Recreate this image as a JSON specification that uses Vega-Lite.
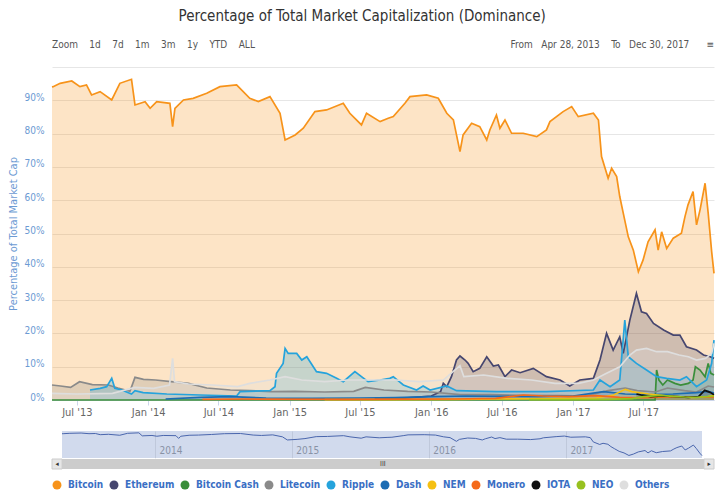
{
  "$schema": "https://vega.github.io/schema/vega-lite/v6.json",
  "background": "white",
  "padding": {"left": 7, "top": 9, "right": 14, "bottom": 2},
  "title": {
    "text": "Percentage of Total Market Capitalization (Dominance)",
    "fontSize": 15,
    "fontWeight": "normal",
    "color": "#333333",
    "anchor": "middle",
    "offset": 16
  },
  "datasets": {
    "coins": [
      {"date": "2013-04-28", "coin": "Bitcoin", "pct": 94.0},
      {"date": "2013-05-01", "coin": "Bitcoin", "pct": 94.1},
      {"date": "2013-05-19", "coin": "Bitcoin", "pct": 95.1},
      {"date": "2013-06-18", "coin": "Bitcoin", "pct": 95.8},
      {"date": "2013-07-09", "coin": "Bitcoin", "pct": 94.1},
      {"date": "2013-07-26", "coin": "Bitcoin", "pct": 94.6},
      {"date": "2013-08-08", "coin": "Bitcoin", "pct": 91.6},
      {"date": "2013-08-30", "coin": "Bitcoin", "pct": 92.6},
      {"date": "2013-09-29", "coin": "Bitcoin", "pct": 90.1},
      {"date": "2013-10-20", "coin": "Bitcoin", "pct": 95.1},
      {"date": "2013-11-19", "coin": "Bitcoin", "pct": 96.3},
      {"date": "2013-11-28", "coin": "Bitcoin", "pct": 88.6},
      {"date": "2013-12-24", "coin": "Bitcoin", "pct": 89.6},
      {"date": "2014-01-06", "coin": "Bitcoin", "pct": 87.6},
      {"date": "2014-01-23", "coin": "Bitcoin", "pct": 89.6},
      {"date": "2014-02-26", "coin": "Bitcoin", "pct": 89.1},
      {"date": "2014-03-05", "coin": "Bitcoin", "pct": 82.1},
      {"date": "2014-03-11", "coin": "Bitcoin", "pct": 87.6},
      {"date": "2014-04-02", "coin": "Bitcoin", "pct": 90.1},
      {"date": "2014-04-27", "coin": "Bitcoin", "pct": 90.6},
      {"date": "2014-06-01", "coin": "Bitcoin", "pct": 92.1},
      {"date": "2014-07-05", "coin": "Bitcoin", "pct": 94.1},
      {"date": "2014-08-17", "coin": "Bitcoin", "pct": 94.6},
      {"date": "2014-09-20", "coin": "Bitcoin", "pct": 90.6},
      {"date": "2014-10-12", "coin": "Bitcoin", "pct": 89.6},
      {"date": "2014-11-11", "coin": "Bitcoin", "pct": 91.1},
      {"date": "2014-12-07", "coin": "Bitcoin", "pct": 86.1},
      {"date": "2014-12-20", "coin": "Bitcoin", "pct": 78.1},
      {"date": "2015-01-15", "coin": "Bitcoin", "pct": 79.6},
      {"date": "2015-02-05", "coin": "Bitcoin", "pct": 81.6},
      {"date": "2015-03-07", "coin": "Bitcoin", "pct": 86.6},
      {"date": "2015-04-06", "coin": "Bitcoin", "pct": 87.1},
      {"date": "2015-05-19", "coin": "Bitcoin", "pct": 89.1},
      {"date": "2015-06-05", "coin": "Bitcoin", "pct": 86.1},
      {"date": "2015-07-05", "coin": "Bitcoin", "pct": 82.6},
      {"date": "2015-07-18", "coin": "Bitcoin", "pct": 86.1},
      {"date": "2015-08-22", "coin": "Bitcoin", "pct": 83.6},
      {"date": "2015-09-12", "coin": "Bitcoin", "pct": 84.6},
      {"date": "2015-09-25", "coin": "Bitcoin", "pct": 85.1},
      {"date": "2015-10-25", "coin": "Bitcoin", "pct": 89.1},
      {"date": "2015-11-07", "coin": "Bitcoin", "pct": 91.1},
      {"date": "2015-12-20", "coin": "Bitcoin", "pct": 91.6},
      {"date": "2016-01-19", "coin": "Bitcoin", "pct": 90.6},
      {"date": "2016-02-10", "coin": "Bitcoin", "pct": 86.1},
      {"date": "2016-02-27", "coin": "Bitcoin", "pct": 84.1},
      {"date": "2016-03-15", "coin": "Bitcoin", "pct": 74.6},
      {"date": "2016-03-23", "coin": "Bitcoin", "pct": 79.6},
      {"date": "2016-04-14", "coin": "Bitcoin", "pct": 83.1},
      {"date": "2016-05-05", "coin": "Bitcoin", "pct": 82.1},
      {"date": "2016-05-23", "coin": "Bitcoin", "pct": 78.1},
      {"date": "2016-05-31", "coin": "Bitcoin", "pct": 81.1},
      {"date": "2016-06-17", "coin": "Bitcoin", "pct": 85.6},
      {"date": "2016-06-26", "coin": "Bitcoin", "pct": 81.6},
      {"date": "2016-07-09", "coin": "Bitcoin", "pct": 84.1},
      {"date": "2016-07-26", "coin": "Bitcoin", "pct": 80.1},
      {"date": "2016-08-25", "coin": "Bitcoin", "pct": 80.1},
      {"date": "2016-09-29", "coin": "Bitcoin", "pct": 79.1},
      {"date": "2016-10-24", "coin": "Bitcoin", "pct": 81.1},
      {"date": "2016-11-02", "coin": "Bitcoin", "pct": 83.6},
      {"date": "2016-12-06", "coin": "Bitcoin", "pct": 86.6},
      {"date": "2016-12-28", "coin": "Bitcoin", "pct": 88.1},
      {"date": "2017-01-14", "coin": "Bitcoin", "pct": 85.1},
      {"date": "2017-02-22", "coin": "Bitcoin", "pct": 86.1},
      {"date": "2017-03-07", "coin": "Bitcoin", "pct": 84.1},
      {"date": "2017-03-15", "coin": "Bitcoin", "pct": 73.1},
      {"date": "2017-04-01", "coin": "Bitcoin", "pct": 66.6},
      {"date": "2017-04-10", "coin": "Bitcoin", "pct": 69.6},
      {"date": "2017-04-23", "coin": "Bitcoin", "pct": 67.1},
      {"date": "2017-05-01", "coin": "Bitcoin", "pct": 61.1},
      {"date": "2017-05-10", "coin": "Bitcoin", "pct": 56.1},
      {"date": "2017-05-23", "coin": "Bitcoin", "pct": 49.0},
      {"date": "2017-06-05", "coin": "Bitcoin", "pct": 45.0},
      {"date": "2017-06-18", "coin": "Bitcoin", "pct": 38.5},
      {"date": "2017-06-30", "coin": "Bitcoin", "pct": 42.0},
      {"date": "2017-07-13", "coin": "Bitcoin", "pct": 47.5},
      {"date": "2017-07-31", "coin": "Bitcoin", "pct": 51.1},
      {"date": "2017-08-08", "coin": "Bitcoin", "pct": 45.0},
      {"date": "2017-08-17", "coin": "Bitcoin", "pct": 50.5},
      {"date": "2017-08-30", "coin": "Bitcoin", "pct": 45.5},
      {"date": "2017-09-16", "coin": "Bitcoin", "pct": 48.6},
      {"date": "2017-10-07", "coin": "Bitcoin", "pct": 50.1},
      {"date": "2017-10-16", "coin": "Bitcoin", "pct": 55.0},
      {"date": "2017-10-24", "coin": "Bitcoin", "pct": 58.6},
      {"date": "2017-11-06", "coin": "Bitcoin", "pct": 62.6},
      {"date": "2017-11-15", "coin": "Bitcoin", "pct": 52.6},
      {"date": "2017-11-24", "coin": "Bitcoin", "pct": 57.1},
      {"date": "2017-12-07", "coin": "Bitcoin", "pct": 65.1},
      {"date": "2017-12-15", "coin": "Bitcoin", "pct": 56.1},
      {"date": "2017-12-24", "coin": "Bitcoin", "pct": 44.5},
      {"date": "2017-12-30", "coin": "Bitcoin", "pct": 38.0},

      {"date": "2015-08-08", "coin": "Ethereum", "pct": 0.5},
      {"date": "2015-10-15", "coin": "Ethereum", "pct": 0.5},
      {"date": "2016-01-01", "coin": "Ethereum", "pct": 1.2},
      {"date": "2016-01-25", "coin": "Ethereum", "pct": 2.5},
      {"date": "2016-02-01", "coin": "Ethereum", "pct": 5.0},
      {"date": "2016-02-10", "coin": "Ethereum", "pct": 4.0},
      {"date": "2016-02-22", "coin": "Ethereum", "pct": 7.0},
      {"date": "2016-03-06", "coin": "Ethereum", "pct": 12.0},
      {"date": "2016-03-15", "coin": "Ethereum", "pct": 13.2},
      {"date": "2016-03-28", "coin": "Ethereum", "pct": 12.0},
      {"date": "2016-04-05", "coin": "Ethereum", "pct": 11.0},
      {"date": "2016-04-18", "coin": "Ethereum", "pct": 8.5},
      {"date": "2016-05-05", "coin": "Ethereum", "pct": 9.5},
      {"date": "2016-05-23", "coin": "Ethereum", "pct": 13.0},
      {"date": "2016-06-09", "coin": "Ethereum", "pct": 10.2},
      {"date": "2016-06-22", "coin": "Ethereum", "pct": 10.5},
      {"date": "2016-07-09", "coin": "Ethereum", "pct": 7.0},
      {"date": "2016-07-26", "coin": "Ethereum", "pct": 9.0},
      {"date": "2016-08-17", "coin": "Ethereum", "pct": 8.2},
      {"date": "2016-09-20", "coin": "Ethereum", "pct": 9.5},
      {"date": "2016-10-24", "coin": "Ethereum", "pct": 7.0},
      {"date": "2016-11-28", "coin": "Ethereum", "pct": 6.0},
      {"date": "2016-12-23", "coin": "Ethereum", "pct": 4.2},
      {"date": "2017-01-18", "coin": "Ethereum", "pct": 6.0},
      {"date": "2017-02-22", "coin": "Ethereum", "pct": 6.5},
      {"date": "2017-03-11", "coin": "Ethereum", "pct": 12.0},
      {"date": "2017-03-28", "coin": "Ethereum", "pct": 20.0},
      {"date": "2017-04-14", "coin": "Ethereum", "pct": 15.0},
      {"date": "2017-05-01", "coin": "Ethereum", "pct": 19.0},
      {"date": "2017-05-10", "coin": "Ethereum", "pct": 14.0},
      {"date": "2017-05-27", "coin": "Ethereum", "pct": 24.0},
      {"date": "2017-06-13", "coin": "Ethereum", "pct": 32.0},
      {"date": "2017-06-26", "coin": "Ethereum", "pct": 26.5},
      {"date": "2017-07-09", "coin": "Ethereum", "pct": 26.0},
      {"date": "2017-07-27", "coin": "Ethereum", "pct": 23.0},
      {"date": "2017-08-22", "coin": "Ethereum", "pct": 21.0},
      {"date": "2017-09-16", "coin": "Ethereum", "pct": 19.5},
      {"date": "2017-10-03", "coin": "Ethereum", "pct": 19.5},
      {"date": "2017-10-20", "coin": "Ethereum", "pct": 16.0},
      {"date": "2017-11-15", "coin": "Ethereum", "pct": 15.0},
      {"date": "2017-12-03", "coin": "Ethereum", "pct": 13.5},
      {"date": "2017-12-20", "coin": "Ethereum", "pct": 13.0},
      {"date": "2017-12-30", "coin": "Ethereum", "pct": 12.5},

      {"date": "2013-04-28", "coin": "Bitcoin Cash", "pct": 0.0},
      {"date": "2017-07-31", "coin": "Bitcoin Cash", "pct": 0.0},
      {"date": "2017-08-01", "coin": "Bitcoin Cash", "pct": 2.0},
      {"date": "2017-08-04", "coin": "Bitcoin Cash", "pct": 9.0},
      {"date": "2017-08-10", "coin": "Bitcoin Cash", "pct": 6.0},
      {"date": "2017-08-20", "coin": "Bitcoin Cash", "pct": 4.5},
      {"date": "2017-09-01", "coin": "Bitcoin Cash", "pct": 6.0},
      {"date": "2017-09-20", "coin": "Bitcoin Cash", "pct": 5.0},
      {"date": "2017-10-05", "coin": "Bitcoin Cash", "pct": 4.5},
      {"date": "2017-10-25", "coin": "Bitcoin Cash", "pct": 5.0},
      {"date": "2017-11-06", "coin": "Bitcoin Cash", "pct": 6.0},
      {"date": "2017-11-12", "coin": "Bitcoin Cash", "pct": 10.0},
      {"date": "2017-11-24", "coin": "Bitcoin Cash", "pct": 9.0},
      {"date": "2017-12-07", "coin": "Bitcoin Cash", "pct": 7.0},
      {"date": "2017-12-15", "coin": "Bitcoin Cash", "pct": 11.0},
      {"date": "2017-12-22", "coin": "Bitcoin Cash", "pct": 8.0},
      {"date": "2017-12-30", "coin": "Bitcoin Cash", "pct": 7.5},

      {"date": "2013-04-28", "coin": "Litecoin", "pct": 4.5},
      {"date": "2013-05-20", "coin": "Litecoin", "pct": 4.2},
      {"date": "2013-06-15", "coin": "Litecoin", "pct": 3.8},
      {"date": "2013-07-08", "coin": "Litecoin", "pct": 5.5},
      {"date": "2013-08-10", "coin": "Litecoin", "pct": 4.6},
      {"date": "2013-09-20", "coin": "Litecoin", "pct": 4.5},
      {"date": "2013-10-15", "coin": "Litecoin", "pct": 3.6},
      {"date": "2013-11-15", "coin": "Litecoin", "pct": 2.6},
      {"date": "2013-11-28", "coin": "Litecoin", "pct": 6.8},
      {"date": "2013-12-20", "coin": "Litecoin", "pct": 6.2},
      {"date": "2014-01-20", "coin": "Litecoin", "pct": 6.0},
      {"date": "2014-03-01", "coin": "Litecoin", "pct": 5.5},
      {"date": "2014-04-15", "coin": "Litecoin", "pct": 5.0},
      {"date": "2014-06-01", "coin": "Litecoin", "pct": 3.6},
      {"date": "2014-08-01", "coin": "Litecoin", "pct": 3.0},
      {"date": "2014-09-20", "coin": "Litecoin", "pct": 2.8},
      {"date": "2014-11-15", "coin": "Litecoin", "pct": 2.5},
      {"date": "2015-01-15", "coin": "Litecoin", "pct": 2.6},
      {"date": "2015-04-01", "coin": "Litecoin", "pct": 2.4},
      {"date": "2015-06-15", "coin": "Litecoin", "pct": 2.6},
      {"date": "2015-07-15", "coin": "Litecoin", "pct": 3.8},
      {"date": "2015-09-01", "coin": "Litecoin", "pct": 3.0},
      {"date": "2015-11-01", "coin": "Litecoin", "pct": 2.6},
      {"date": "2016-01-01", "coin": "Litecoin", "pct": 2.4},
      {"date": "2016-03-15", "coin": "Litecoin", "pct": 1.6},
      {"date": "2016-06-01", "coin": "Litecoin", "pct": 1.6},
      {"date": "2016-09-01", "coin": "Litecoin", "pct": 1.4},
      {"date": "2016-12-01", "coin": "Litecoin", "pct": 1.3},
      {"date": "2017-02-01", "coin": "Litecoin", "pct": 1.2},
      {"date": "2017-04-01", "coin": "Litecoin", "pct": 2.8},
      {"date": "2017-05-15", "coin": "Litecoin", "pct": 3.6},
      {"date": "2017-06-15", "coin": "Litecoin", "pct": 2.8},
      {"date": "2017-08-01", "coin": "Litecoin", "pct": 2.4},
      {"date": "2017-09-01", "coin": "Litecoin", "pct": 3.6},
      {"date": "2017-10-15", "coin": "Litecoin", "pct": 2.8},
      {"date": "2017-11-15", "coin": "Litecoin", "pct": 2.4},
      {"date": "2017-12-15", "coin": "Litecoin", "pct": 4.2},
      {"date": "2017-12-30", "coin": "Litecoin", "pct": 3.9},

      {"date": "2013-08-04", "coin": "Ripple", "pct": 3.0},
      {"date": "2013-08-30", "coin": "Ripple", "pct": 3.5},
      {"date": "2013-09-16", "coin": "Ripple", "pct": 4.0},
      {"date": "2013-09-29", "coin": "Ripple", "pct": 6.5},
      {"date": "2013-10-07", "coin": "Ripple", "pct": 3.5},
      {"date": "2013-10-25", "coin": "Ripple", "pct": 3.0},
      {"date": "2013-11-19", "coin": "Ripple", "pct": 1.8},
      {"date": "2013-11-28", "coin": "Ripple", "pct": 2.8},
      {"date": "2013-12-19", "coin": "Ripple", "pct": 2.2},
      {"date": "2014-02-18", "coin": "Ripple", "pct": 1.8},
      {"date": "2014-05-15", "coin": "Ripple", "pct": 1.5},
      {"date": "2014-08-17", "coin": "Ripple", "pct": 1.2},
      {"date": "2014-08-26", "coin": "Ripple", "pct": 2.5},
      {"date": "2014-11-11", "coin": "Ripple", "pct": 2.8},
      {"date": "2014-11-24", "coin": "Ripple", "pct": 4.0},
      {"date": "2014-11-28", "coin": "Ripple", "pct": 8.0},
      {"date": "2014-12-15", "coin": "Ripple", "pct": 11.0},
      {"date": "2014-12-20", "coin": "Ripple", "pct": 15.5},
      {"date": "2014-12-28", "coin": "Ripple", "pct": 14.0},
      {"date": "2015-01-19", "coin": "Ripple", "pct": 14.0},
      {"date": "2015-02-01", "coin": "Ripple", "pct": 12.0},
      {"date": "2015-02-14", "coin": "Ripple", "pct": 13.0},
      {"date": "2015-03-11", "coin": "Ripple", "pct": 8.5},
      {"date": "2015-04-06", "coin": "Ripple", "pct": 8.0},
      {"date": "2015-05-02", "coin": "Ripple", "pct": 6.5},
      {"date": "2015-05-19", "coin": "Ripple", "pct": 5.5},
      {"date": "2015-06-18", "coin": "Ripple", "pct": 8.5},
      {"date": "2015-07-05", "coin": "Ripple", "pct": 7.0},
      {"date": "2015-07-22", "coin": "Ripple", "pct": 5.5},
      {"date": "2015-08-22", "coin": "Ripple", "pct": 6.0},
      {"date": "2015-09-16", "coin": "Ripple", "pct": 6.5},
      {"date": "2015-09-25", "coin": "Ripple", "pct": 7.0},
      {"date": "2015-10-21", "coin": "Ripple", "pct": 4.5},
      {"date": "2015-11-24", "coin": "Ripple", "pct": 3.0},
      {"date": "2015-12-11", "coin": "Ripple", "pct": 4.2},
      {"date": "2015-12-29", "coin": "Ripple", "pct": 3.0},
      {"date": "2016-02-10", "coin": "Ripple", "pct": 4.2},
      {"date": "2016-03-06", "coin": "Ripple", "pct": 2.8},
      {"date": "2016-06-17", "coin": "Ripple", "pct": 2.5},
      {"date": "2016-10-24", "coin": "Ripple", "pct": 2.5},
      {"date": "2017-02-22", "coin": "Ripple", "pct": 3.0},
      {"date": "2017-03-11", "coin": "Ripple", "pct": 6.0},
      {"date": "2017-04-06", "coin": "Ripple", "pct": 4.0},
      {"date": "2017-05-01", "coin": "Ripple", "pct": 6.0},
      {"date": "2017-05-14", "coin": "Ripple", "pct": 24.0},
      {"date": "2017-05-23", "coin": "Ripple", "pct": 13.0},
      {"date": "2017-06-13", "coin": "Ripple", "pct": 11.0},
      {"date": "2017-07-09", "coin": "Ripple", "pct": 9.0},
      {"date": "2017-08-04", "coin": "Ripple", "pct": 7.0},
      {"date": "2017-08-30", "coin": "Ripple", "pct": 6.5},
      {"date": "2017-10-03", "coin": "Ripple", "pct": 6.0},
      {"date": "2017-10-20", "coin": "Ripple", "pct": 7.0},
      {"date": "2017-11-15", "coin": "Ripple", "pct": 4.0},
      {"date": "2017-12-11", "coin": "Ripple", "pct": 6.0},
      {"date": "2017-12-24", "coin": "Ripple", "pct": 11.0},
      {"date": "2017-12-30", "coin": "Ripple", "pct": 18.0},

      {"date": "2014-02-15", "coin": "Dash", "pct": 0.3},
      {"date": "2014-05-15", "coin": "Dash", "pct": 0.8},
      {"date": "2014-08-01", "coin": "Dash", "pct": 1.0},
      {"date": "2014-11-01", "coin": "Dash", "pct": 0.6},
      {"date": "2015-03-01", "coin": "Dash", "pct": 0.5},
      {"date": "2015-07-01", "coin": "Dash", "pct": 0.6},
      {"date": "2015-10-01", "coin": "Dash", "pct": 0.7},
      {"date": "2016-01-01", "coin": "Dash", "pct": 1.0},
      {"date": "2016-04-01", "coin": "Dash", "pct": 1.2},
      {"date": "2016-07-01", "coin": "Dash", "pct": 1.1},
      {"date": "2016-10-01", "coin": "Dash", "pct": 1.0},
      {"date": "2017-01-01", "coin": "Dash", "pct": 1.2},
      {"date": "2017-03-20", "coin": "Dash", "pct": 2.5},
      {"date": "2017-05-15", "coin": "Dash", "pct": 1.8},
      {"date": "2017-07-15", "coin": "Dash", "pct": 1.6},
      {"date": "2017-09-15", "coin": "Dash", "pct": 1.8},
      {"date": "2017-11-15", "coin": "Dash", "pct": 2.2},
      {"date": "2017-12-15", "coin": "Dash", "pct": 2.6},
      {"date": "2017-12-30", "coin": "Dash", "pct": 2.1},

      {"date": "2015-04-01", "coin": "NEM", "pct": 0.1},
      {"date": "2015-10-01", "coin": "NEM", "pct": 0.1},
      {"date": "2016-03-01", "coin": "NEM", "pct": 0.2},
      {"date": "2016-07-01", "coin": "NEM", "pct": 0.3},
      {"date": "2016-12-01", "coin": "NEM", "pct": 0.4},
      {"date": "2017-03-01", "coin": "NEM", "pct": 0.6},
      {"date": "2017-04-15", "coin": "NEM", "pct": 1.5},
      {"date": "2017-05-15", "coin": "NEM", "pct": 3.2},
      {"date": "2017-06-01", "coin": "NEM", "pct": 2.5},
      {"date": "2017-07-15", "coin": "NEM", "pct": 1.8},
      {"date": "2017-09-01", "coin": "NEM", "pct": 1.2},
      {"date": "2017-11-01", "coin": "NEM", "pct": 0.8},
      {"date": "2017-12-15", "coin": "NEM", "pct": 1.0},
      {"date": "2017-12-30", "coin": "NEM", "pct": 1.4},

      {"date": "2014-05-21", "coin": "Monero", "pct": 0.2},
      {"date": "2014-09-01", "coin": "Monero", "pct": 0.3},
      {"date": "2015-06-01", "coin": "Monero", "pct": 0.2},
      {"date": "2016-03-01", "coin": "Monero", "pct": 0.3},
      {"date": "2016-06-15", "coin": "Monero", "pct": 0.5},
      {"date": "2016-08-25", "coin": "Monero", "pct": 1.5},
      {"date": "2016-10-15", "coin": "Monero", "pct": 1.2},
      {"date": "2016-12-20", "coin": "Monero", "pct": 1.0},
      {"date": "2017-03-01", "coin": "Monero", "pct": 1.3},
      {"date": "2017-05-01", "coin": "Monero", "pct": 0.8},
      {"date": "2017-07-01", "coin": "Monero", "pct": 0.7},
      {"date": "2017-09-01", "coin": "Monero", "pct": 0.9},
      {"date": "2017-11-01", "coin": "Monero", "pct": 0.9},
      {"date": "2017-12-30", "coin": "Monero", "pct": 0.9},

      {"date": "2017-06-13", "coin": "IOTA", "pct": 1.8},
      {"date": "2017-06-25", "coin": "IOTA", "pct": 1.5},
      {"date": "2017-07-20", "coin": "IOTA", "pct": 1.0},
      {"date": "2017-08-20", "coin": "IOTA", "pct": 1.2},
      {"date": "2017-09-25", "coin": "IOTA", "pct": 1.0},
      {"date": "2017-10-25", "coin": "IOTA", "pct": 0.8},
      {"date": "2017-11-20", "coin": "IOTA", "pct": 1.0},
      {"date": "2017-12-06", "coin": "IOTA", "pct": 2.9},
      {"date": "2017-12-20", "coin": "IOTA", "pct": 2.3},
      {"date": "2017-12-30", "coin": "IOTA", "pct": 1.6},

      {"date": "2016-09-09", "coin": "NEO", "pct": 0.1},
      {"date": "2017-01-01", "coin": "NEO", "pct": 0.1},
      {"date": "2017-04-01", "coin": "NEO", "pct": 0.2},
      {"date": "2017-06-01", "coin": "NEO", "pct": 0.4},
      {"date": "2017-07-01", "coin": "NEO", "pct": 1.0},
      {"date": "2017-08-15", "coin": "NEO", "pct": 1.4},
      {"date": "2017-09-15", "coin": "NEO", "pct": 1.1},
      {"date": "2017-10-15", "coin": "NEO", "pct": 0.9},
      {"date": "2017-11-15", "coin": "NEO", "pct": 0.8},
      {"date": "2017-12-30", "coin": "NEO", "pct": 1.2},

      {"date": "2013-04-28", "coin": "Others", "pct": 2.0},
      {"date": "2013-07-01", "coin": "Others", "pct": 1.8},
      {"date": "2013-10-01", "coin": "Others", "pct": 2.0},
      {"date": "2013-11-28", "coin": "Others", "pct": 3.8},
      {"date": "2014-01-15", "coin": "Others", "pct": 3.5},
      {"date": "2014-02-25", "coin": "Others", "pct": 4.5},
      {"date": "2014-03-05", "coin": "Others", "pct": 12.5},
      {"date": "2014-03-10", "coin": "Others", "pct": 5.5},
      {"date": "2014-04-15", "coin": "Others", "pct": 4.8},
      {"date": "2014-06-15", "coin": "Others", "pct": 4.5},
      {"date": "2014-08-20", "coin": "Others", "pct": 4.0},
      {"date": "2014-09-20", "coin": "Others", "pct": 5.0},
      {"date": "2014-11-11", "coin": "Others", "pct": 6.0},
      {"date": "2014-12-20", "coin": "Others", "pct": 7.0},
      {"date": "2015-02-01", "coin": "Others", "pct": 6.0},
      {"date": "2015-04-01", "coin": "Others", "pct": 5.5},
      {"date": "2015-06-01", "coin": "Others", "pct": 6.0},
      {"date": "2015-08-01", "coin": "Others", "pct": 6.0},
      {"date": "2015-10-01", "coin": "Others", "pct": 6.0},
      {"date": "2015-12-01", "coin": "Others", "pct": 5.5},
      {"date": "2016-02-01", "coin": "Others", "pct": 6.0},
      {"date": "2016-03-15", "coin": "Others", "pct": 10.3},
      {"date": "2016-03-25", "coin": "Others", "pct": 7.0},
      {"date": "2016-05-15", "coin": "Others", "pct": 7.5},
      {"date": "2016-07-15", "coin": "Others", "pct": 6.5},
      {"date": "2016-09-15", "coin": "Others", "pct": 6.0},
      {"date": "2016-11-15", "coin": "Others", "pct": 5.0},
      {"date": "2017-01-15", "coin": "Others", "pct": 5.0},
      {"date": "2017-02-22", "coin": "Others", "pct": 6.0},
      {"date": "2017-03-28", "coin": "Others", "pct": 8.0},
      {"date": "2017-05-01", "coin": "Others", "pct": 10.0},
      {"date": "2017-05-27", "coin": "Others", "pct": 13.5},
      {"date": "2017-06-13", "coin": "Others", "pct": 15.0},
      {"date": "2017-07-09", "coin": "Others", "pct": 15.5},
      {"date": "2017-08-04", "coin": "Others", "pct": 14.5},
      {"date": "2017-09-01", "coin": "Others", "pct": 14.5},
      {"date": "2017-10-01", "coin": "Others", "pct": 13.5},
      {"date": "2017-10-25", "coin": "Others", "pct": 13.0},
      {"date": "2017-11-15", "coin": "Others", "pct": 12.0},
      {"date": "2017-12-08", "coin": "Others", "pct": 12.5},
      {"date": "2017-12-24", "coin": "Others", "pct": 14.0},
      {"date": "2017-12-30", "coin": "Others", "pct": 17.0}
    ]
  },
  "vconcat": [
    {
      "width": 662,
      "height": 333,
      "encoding": {
        "x": {
          "field": "date",
          "type": "temporal",
          "scale": {"domain": [{"year": 2013, "month": 4, "date": 28, "utc": true}, {"year": 2017, "month": 12, "date": 30, "utc": true}]},
          "axis": {
            "title": null,
            "format": "%b '%y",
            "values": [
              {"year": 2013, "month": 7, "date": 1, "utc": true},
              {"year": 2014, "month": 1, "date": 1, "utc": true},
              {"year": 2014, "month": 7, "date": 1, "utc": true},
              {"year": 2015, "month": 1, "date": 1, "utc": true},
              {"year": 2015, "month": 7, "date": 1, "utc": true},
              {"year": 2016, "month": 1, "date": 1, "utc": true},
              {"year": 2016, "month": 7, "date": 1, "utc": true},
              {"year": 2017, "month": 1, "date": 1, "utc": true},
              {"year": 2017, "month": 7, "date": 1, "utc": true}
            ],
            "tickSize": 5,
            "labelPadding": 1
          }
        }
      },
      "layer": [
        {
          "data": {"name": "coins"},
          "mark": {"type": "area", "fillOpacity": 0.25, "line": {"strokeWidth": 1.7}},
          "encoding": {
            "y": {
              "field": "pct",
              "type": "quantitative",
              "stack": null,
              "scale": {"domain": [0, 100], "nice": false},
              "axis": {
                "title": "Percentage of Total Market Cap",
                "values": [0, 10, 20, 30, 40, 50, 60, 70, 80, 90, 100],
                "labelOverlap": false,
                "labelBaseline": "alphabetic",
                "labelExpr": "datum.value == 100 ? '' : datum.value + '%'"
              }
            },
            "color": {
              "field": "coin",
              "type": "nominal",
              "scale": {
                "domain": ["Bitcoin", "Ethereum", "Bitcoin Cash", "Litecoin", "Ripple", "Dash", "NEM", "Monero", "IOTA", "NEO", "Others"],
                "range": ["#f7931a", "#46466f", "#3a8e3a", "#8a8a8a", "#25a3dc", "#1b6cb3", "#f5c012", "#f56a1a", "#111111", "#97c11f", "#dedede"]
              },
              "legend": {
                "orient": "bottom",
                "direction": "horizontal",
                "title": null,
                "symbolType": "circle",
                "symbolSize": 80,
                "symbolOpacity": 1,
                "symbolStrokeWidth": 0,
                "labelColor": "#3a6fc4",
                "labelFontSize": 10,
                "labelFontWeight": 600,
                "labelOffset": 6,
                "columnPadding": 5,
                "offset": 10
              }
            }
          }
        },
        {
          "data": {"values": [{"date": "2013-04-28", "pct": 100, "label": "Zoom\u00a0\u00a0\u00a0\u00a01d\u00a0\u00a0\u00a0\u00a07d\u00a0\u00a0\u00a0\u00a01m\u00a0\u00a0\u00a0\u00a03m\u00a0\u00a0\u00a0\u00a01y\u00a0\u00a0\u00a0\u00a0YTD\u00a0\u00a0\u00a0\u00a0ALL"}]},
          "mark": {"type": "text", "align": "left", "baseline": "middle", "dy": -22, "fontSize": 10, "fill": "#555555"},
          "encoding": {
            "y": {
              "field": "pct",
              "type": "quantitative",
              "axis": {
                "title": "Percentage of Total Market Cap",
                "values": [0, 10, 20, 30, 40, 50, 60, 70, 80, 90, 100],
                "labelOverlap": false,
                "labelBaseline": "alphabetic",
                "labelExpr": "datum.value == 100 ? '' : datum.value + '%'"
              }
            },
            "text": {"field": "label"}
          }
        },
        {
          "data": {"values": [{"date": "2017-12-30", "pct": 100, "label": "From\u00a0\u00a0\u00a0Apr 28, 2013\u00a0\u00a0\u00a0\u00a0To\u00a0\u00a0\u00a0Dec 30, 2017\u00a0\u00a0\u00a0\u00a0\u00a0\u00a0\u2261"}]},
          "mark": {"type": "text", "align": "right", "baseline": "middle", "dy": -22, "fontSize": 10, "fill": "#555555"},
          "encoding": {
            "y": {
              "field": "pct",
              "type": "quantitative",
              "axis": {
                "title": "Percentage of Total Market Cap",
                "values": [0, 10, 20, 30, 40, 50, 60, 70, 80, 90, 100],
                "labelOverlap": false,
                "labelBaseline": "alphabetic",
                "labelExpr": "datum.value == 100 ? '' : datum.value + '%'"
              }
            },
            "text": {"field": "label"}
          }
        }
      ]
    },
    {
      "spacing": 0,
      "vconcat": [
        {
          "width": 662,
          "height": 27,
          "layer": [
            {
              "data": {"values": [{"start": "2013-04-28", "end": "2017-12-30"}]},
              "mark": {"type": "rect", "fill": "#6685c2", "opacity": 0.3},
              "encoding": {
                "x": {
                  "field": "start",
                  "type": "temporal",
                  "scale": {"domain": [{"year": 2013, "month": 4, "date": 28, "utc": true}, {"year": 2017, "month": 12, "date": 30, "utc": true}], "range": [10, 650]},
                  "axis": {
                    "title": null,
                    "orient": "bottom",
                    "grid": true,
                    "gridColor": "#e6e6e6",
                    "domain": false,
                    "ticks": false,
                    "format": "%Y",
                    "values": [
                      {"year": 2014, "month": 1, "date": 1, "utc": true},
                      {"year": 2015, "month": 1, "date": 1, "utc": true},
                      {"year": 2016, "month": 1, "date": 1, "utc": true},
                      {"year": 2017, "month": 1, "date": 1, "utc": true}
                    ],
                    "labelAlign": "left",
                    "labelBaseline": "bottom",
                    "labelPadding": -3,
                    "labelOffset": 4,
                    "labelColor": "#999999",
                    "labelFontSize": 10
                  }
                },
                "x2": {"field": "end"}
              }
            },
            {
              "data": {"name": "coins"},
              "transform": [{"filter": "datum.coin == 'Bitcoin'"}],
              "mark": {"type": "line", "color": "#4a66ad", "strokeWidth": 1},
              "encoding": {
                "x": {"field": "date", "type": "temporal"},
                "y": {"field": "pct", "type": "quantitative", "scale": {"domain": [32, 101], "nice": false, "zero": false}, "axis": null}
              }
            }
          ]
        },
        {
          "width": 662,
          "height": 10,
          "layer": [
            {
              "data": {"values": [{"start": "2013-04-28", "end": "2017-12-30"}]},
              "mark": {"type": "rect", "fill": "#cccccc"},
              "encoding": {
                "x": {
                  "field": "start",
                  "type": "temporal",
                  "scale": {"domain": [{"year": 2013, "month": 4, "date": 28, "utc": true}, {"year": 2017, "month": 12, "date": 30, "utc": true}]},
                  "axis": null
                },
                "x2": {"field": "end"}
              }
            },
            {
              "data": {"values": [{"start": "2013-04-28", "end": "2013-05-24"}, {"start": "2017-12-04", "end": "2017-12-30"}]},
              "mark": {"type": "rect", "fill": "#e6e6e6", "stroke": "#cccccc", "strokeWidth": 1},
              "encoding": {
                "x": {"field": "start", "type": "temporal"},
                "x2": {"field": "end"}
              }
            },
            {
              "data": {"values": [{"date": "2013-05-11", "label": "\u25c2"}, {"date": "2015-08-29", "label": "III"}, {"date": "2017-12-17", "label": "\u25b8"}]},
              "mark": {"type": "text", "fontSize": 7, "fill": "#333333", "baseline": "middle"},
              "encoding": {
                "x": {"field": "date", "type": "temporal"},
                "text": {"field": "label"}
              }
            }
          ]
        }
      ]
    }
  ],
  "spacing": 13,
  "config": {
    "font": "Liberation Sans Narrow, DejaVu Sans Condensed, Roboto, sans-serif",
    "view": {"stroke": null},
    "axisX": {
      "labelColor": "#666666",
      "labelFontSize": 11,
      "tickColor": "#ccd6eb",
      "domainColor": "#ccd6eb",
      "grid": false
    },
    "axisY": {
      "labelColor": "#6c9ad3",
      "labelFontSize": 10,
      "titleColor": "#6c9ad3",
      "titleFontSize": 11,
      "titleFontWeight": "normal",
      "titlePadding": 6,
      "labelPadding": 8,
      "gridColor": "#e6e6e6",
      "domain": false,
      "ticks": false
    }
  }
}
